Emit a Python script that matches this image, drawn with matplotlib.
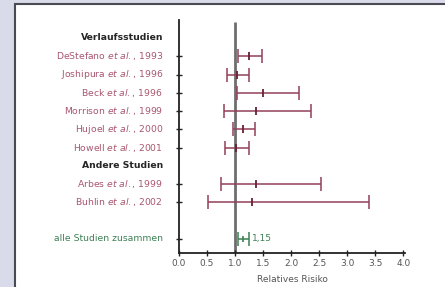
import matplotlib
matplotlib.use("Agg")
import matplotlib.pyplot as plt
from matplotlib.patches import Rectangle
from matplotlib.transforms import blended_transform_factory

plt.rcParams['font.family'] = ['DejaVu Sans']
plt.rcParams['mathtext.fontset'] = 'dejavusans'

# ---- data ----
studies = ["DeStefano", "Joshipura", "Beck", "Morrison", "Hujoel", "Howell", "Arbes", "Buhlin"]
years = [1993, 1996, 1996, 1999, 2000, 2001, 1999, 2002]
rows = [1, 2, 3, 4, 5, 6, 8, 9]
rr = [1.25, 1.04, 1.50, 1.37, 1.14, 1.01, 1.37, 1.30]
lo = [1.06, 0.86, 1.04, 0.80, 0.97, 0.82, 0.75, 0.51]
hi = [1.48, 1.25, 2.14, 2.35, 1.36, 1.24, 2.53, 3.39]
headers = ["Verlaufsstudien", "Andere Studien"]
header_rows = [0, 7]
pooled_label = "alle Studien zusammen"
pooled_row = 11
pooled_rr = 1.15
pooled_lo = 1.06
pooled_hi = 1.25
pooled_text = "1,15"
xticks = [0.0, 0.5, 1.0, 1.5, 2.0, 2.5, 3.0, 3.5, 4.0]
xlabel = "Relatives Risiko"

RED = "#93405a"
LABEL_RED = "#a8566f"
GREEN = "#3d8055"
GRAY = "#6e6e6e"

fig = plt.figure(figsize=(4.45, 2.87), dpi=100)
fig.patch.set_facecolor("#dadbea")
# white panel with dark border
fig.patches.append(Rectangle((15 / 445, -0.05), 1.0, 1 - 4 / 287 + 0.05,
                             transform=fig.transFigure, facecolor="white",
                             edgecolor="#4a4a52", linewidth=1.5, zorder=-1))

ax = fig.add_axes([179 / 445, 1 - 252.7 / 287, 226 / 445, (252.7 - 20) / 287])
ax.set_facecolor("none")
ax.set_zorder(2)
ax.set_xlim(0, 4.03)
ax.set_ylim(11.75, -0.985)
for s in ["top", "right"]:
    ax.spines[s].set_visible(False)
for s in ["left", "bottom"]:
    ax.spines[s].set_linewidth(1.3)
    ax.spines[s].set_color("#222222")

# reference line at 1.0
ax.plot([1.0, 1.0], [11.75, -0.88], color=GRAY, lw=2.0, zorder=1, solid_capstyle="butt")

# study error bars
for r, m, l, h in zip(rows, rr, lo, hi):
    ax.errorbar([m], [r], xerr=[[m - l], [h - m]], fmt="none", ecolor=RED,
                elinewidth=1.1, capsize=5, capthick=1.1, zorder=3)
    ax.plot([m], [r], marker="|", color="#6a2036", markersize=6, mew=1.3, zorder=4)

# pooled
ax.errorbar([pooled_rr], [pooled_row], xerr=[[pooled_rr - pooled_lo], [pooled_hi - pooled_rr]],
            fmt="none", ecolor=GREEN, elinewidth=1.1, capsize=5, capthick=1.1, zorder=3)
ax.plot([pooled_rr], [pooled_row], marker="|", color=GREEN, markersize=5, mew=1.2, zorder=4)
ax.text(pooled_hi + 0.05, pooled_row, pooled_text, color=GREEN, fontsize=6.5,
        va="center", ha="left")

# y ticks / labels
ax.set_yticks(rows + [pooled_row])
ax.set_yticklabels([])
ax.tick_params(axis="y", direction="inout", length=5, width=1.0, color="#222222")
trans = blended_transform_factory(fig.transFigure, ax.transData)
xl = 163 / 445
for name, yr, r in zip(studies, years, rows):
    ax.text(xl, r, name + r" $\it{et\ al.}$, " + str(yr), transform=trans, ha="right",
            va="center", fontsize=6.7, color=LABEL_RED)
for hname, r in zip(headers, header_rows):
    ax.text(xl, r, hname, transform=trans, ha="right", va="center", fontsize=6.7,
            color="#262626", fontweight="bold")
ax.text(xl, pooled_row, pooled_label, transform=trans, ha="right", va="center",
        fontsize=6.7, color=GREEN)

# x ticks
ax.set_xticks(xticks)
ax.set_xticklabels([f"{v:.1f}" for v in xticks], fontsize=6.5, color="#555555")
ax.tick_params(axis="x", direction="inout", length=5, width=1.0, color="#222222", pad=2)
ax.set_xlabel(xlabel, fontsize=6.5, color="#555555", labelpad=5)

fig.savefig("out.png", dpi=100, facecolor=fig.get_facecolor())
